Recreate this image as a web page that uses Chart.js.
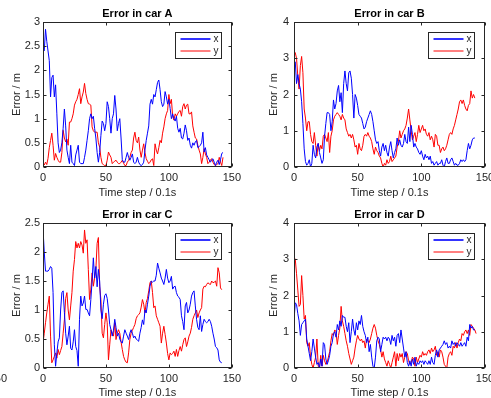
<!DOCTYPE html>
<html><head><meta charset="utf-8">
<script src="https://cdn.jsdelivr.net/npm/chart.js@4"></script>
<style>
html,body{margin:0;padding:0;background:#fff;width:491px;height:398px;overflow:hidden;position:relative;}
canvas{position:absolute;}
#stray{position:absolute;left:-12px;top:373px;width:19px;text-align:right;font:11px "Liberation Sans",Arial,sans-serif;color:#262626;line-height:11px;}
</style></head><body>
<canvas id="cA" width="245" height="200" style="left:0;top:0"></canvas>
<canvas id="cB" width="260" height="200" style="left:245px;top:0"></canvas>
<canvas id="cC" width="245" height="200" style="left:0;top:200px"></canvas>
<canvas id="cD" width="260" height="200" style="left:245px;top:200px"></canvas>
<div id="stray">150</div>
<script>
// ---- data (time steps start at the given index, one value per step) ----
const titles = ["Error in car A","Error in car B","Error in car C","Error in car D"];
const seriesNames = ["x","y"];
const xAxisTitle = "Time step / 0.1s";
const yAxisTitle = "Error / m";
const xTicks = [0,50,100,150];
const yMaxes = [3,4,2.5,4];
const yStepsTick = [0.5,1,0.5,1];
const startA = 1, startB = 0, startC = 0, startD = 0;

const errA_x = [2.4,2.85,2.6,2.4,2.2,1.45,1.85,1.9,1.45,1.7,
1.1,0.5,0.3,0.35,0.5,0.8,1.2,0.85,0.35,0.2,
0.07,0.45,0.1,0.07,0.03,0.25,0.35,0.45,0.1,0.07,
0.07,0.07,0.2,0.35,0.55,0.75,1.0,1.1,1.0,1.05,
0.8,0.6,0.3,0.1,0.3,0.65,0.95,0.9,0.75,0.9,
1.35,1.25,1.0,0.7,1.0,1.1,1.48,1.2,0.75,0.9,
1.0,0.6,0.15,0.1,0.1,0.2,0.3,0.2,0.14,0.2,
0.27,0.1,0.07,0.1,0.2,0.1,0.05,0.03,0.05,0.1,
0.35,0.55,0.7,0.85,1.3,1.4,1.3,1.5,1.45,1.6,
1.75,1.8,1.6,1.35,1.25,1.3,1.56,1.45,1.3,1.4,
1.21,1.0,1.1,1.0,0.95,1.05,0.8,0.72,0.8,0.6,
0.58,0.7,0.87,0.75,0.55,0.6,0.45,0.39,0.5,0.45,
0.52,0.55,0.4,0.42,0.45,0.5,0.72,0.31,0.4,0.25,
0.2,0.15,0.1,0.15,0.17,0.1,0.03,0.1,0.14,0.05,
0.15,0.28,0.3];
const errA_y = [0.04,0.1,0.05,0.18,0.4,0.55,0.7,0.45,0.14,0.28,
0.2,0.14,0.1,0.1,0.3,0.76,0.6,0.52,0.58,0.45,
0.93,0.93,1.0,1.1,1.28,1.35,1.4,1.5,1.62,1.31,
1.45,1.55,1.73,1.52,1.4,1.31,1.3,1.28,0.83,0.75,
0.72,0.72,0.72,0.5,0.41,0.2,0.07,0.05,0.03,0.03,
0.14,0.31,0.25,0.2,0.07,0.1,0.12,0.14,0.1,0.07,
0.07,0.1,0.14,0.08,0.03,0.03,0.1,0.14,0.2,0.3,
0.35,0.6,0.72,0.55,0.5,0.62,0.35,0.2,0.35,0.48,
0.3,0.17,0.12,0.07,0.1,0.15,0.17,0.03,0.48,0.35,
0.27,0.4,0.55,0.5,0.7,0.83,1.0,1.1,1.17,1.5,
1.31,1.4,1.05,0.97,1.1,1.05,1.1,1.15,1.17,1.05,
1.25,1.31,1.2,1.28,1.3,1.1,1.1,1.14,0.85,0.72,
0.6,0.58,0.45,0.35,0.27,0.07,0.2,0.38,0.27,0.2,
0.07,0.1,0.15,0.17,0.1,0.05,0.03,0.05,0.07,0.2,
0.1,0.03,0.2];

const errB_x = [2.9,2.9,2.3,2.55,2.3,2.15,1.8,1.2,0.5,0.15,
0.05,0.1,0.2,0.0,0.1,0.6,0.35,0.25,0.55,0.65,
0.4,0.25,0.1,0.2,0.85,1.2,1.5,1.5,1.45,1.0,
1.25,1.85,1.6,1.75,2.1,2.25,1.8,2.05,1.5,2.3,
2.65,2.3,2.1,2.6,2.65,2.45,2.0,1.35,2.0,1.9,
1.7,1.45,1.4,1.35,1.2,1.05,1.1,1.25,1.35,1.45,
1.55,1.45,1.25,1.0,0.75,0.65,0.7,0.45,0.3,0.55,
0.65,0.45,0.6,0.4,0.3,0.55,0.7,0.45,0.25,0.4,
0.5,0.8,0.6,0.75,0.6,0.55,0.65,0.9,0.7,0.65,
1.1,0.7,1.15,0.9,0.55,0.65,0.55,0.5,0.4,0.35,
0.45,0.3,0.2,0.35,0.25,0.3,0.2,0.3,0.1,0.15,
0.05,0.1,0.15,0.05,0.1,0.1,0.2,0.05,0.0,0.15,
0.25,0.1,0.1,0.2,0.25,0.15,0.05,0.1,0.05,0.05,
0.1,0.2,0.15,0.2,0.15,0.2,0.45,0.65,0.5,0.6,
0.75,0.8,0.8];
const errB_y = [3.2,3.15,3.0,2.5,2.15,2.8,3.05,2.6,1.6,1.35,
1.0,1.25,1.25,0.9,0.7,0.65,0.95,0.6,0.3,0.65,
0.45,0.6,0.5,0.85,0.9,0.8,0.7,0.95,0.4,0.85,
1.0,1.3,1.4,1.45,1.5,1.45,1.4,1.3,1.45,1.35,
1.3,1.05,0.95,0.85,0.9,0.8,0.9,0.75,0.55,0.6,
0.35,0.65,0.5,0.45,0.6,0.85,0.9,0.85,0.95,0.85,
0.8,0.7,0.5,0.35,0.55,0.45,0.4,0.3,0.25,0.1,
0.0,0.1,0.05,0.2,0.1,0.15,0.3,0.15,0.2,0.25,
0.3,0.55,0.7,1.0,0.8,0.9,1.0,1.05,1.15,1.35,
1.6,1.3,1.0,0.75,0.85,0.95,0.7,0.9,1.15,0.95,
1.05,1.15,1.0,1.05,0.9,0.85,0.95,0.75,0.85,0.75,
0.55,0.9,0.85,0.6,0.6,0.4,0.5,0.55,0.45,0.5,
0.6,0.75,0.9,0.95,0.9,1.05,1.15,1.3,1.45,1.6,
1.8,1.85,1.75,1.85,1.7,1.6,1.55,1.7,1.75,2.1,
1.9,2.0,1.9];

const errC_x = [2.4,2.0,1.67,1.67,1.67,1.7,1.75,1.72,1.3,0.4,
0.03,0.26,0.45,0.52,1.0,1.3,1.33,0.96,0.6,0.4,
0.55,0.72,0.34,0.31,0.45,0.66,0.37,0.3,0.03,0.84,
1.24,1.07,1.12,1.24,1.01,1.01,0.95,0.9,1.18,1.5,
1.9,1.55,1.75,1.4,1.7,1.5,1.0,0.85,1.1,1.25,
1.28,1.2,1.0,0.75,0.66,0.55,0.65,0.84,0.7,0.55,
0.6,0.5,0.45,0.43,0.55,0.66,0.6,0.55,0.49,0.6,
0.66,0.6,0.52,0.55,0.5,0.48,0.46,0.6,0.7,0.83,
0.75,1.0,0.95,1.1,1.24,1.41,1.5,1.48,1.5,1.5,
1.6,1.81,1.72,1.64,1.55,1.5,1.44,1.55,1.7,1.55,
1.47,1.5,1.58,1.36,1.4,1.41,1.3,1.24,1.22,1.18,
0.9,0.8,0.66,1.07,1.13,0.95,1.0,1.1,1.24,1.3,
1.33,1.07,0.84,0.7,0.66,0.9,0.63,0.75,0.84,0.8,
0.78,0.8,0.84,0.8,0.72,0.6,0.5,0.37,0.35,0.31,
0.14,0.1,0.09];
const errC_y = [0.43,0.6,0.78,0.95,1.1,1.24,0.55,0.09,0.14,0.2,
0.26,0.17,0.32,0.23,0.3,0.37,0.6,0.83,1.2,1.3,
1.0,0.83,1.07,1.3,1.67,1.87,2.18,2.07,2.15,2.07,
2.18,2.12,1.98,2.38,2.15,2.21,1.7,1.18,1.36,1.64,
1.41,1.55,1.7,2.15,2.25,1.41,1.18,0.6,0.52,0.75,
0.95,0.78,0.14,0.4,0.66,0.6,0.55,0.78,0.49,0.6,
0.66,0.6,0.45,0.32,0.2,0.14,0.1,0.09,0.26,0.49,
0.6,0.65,0.7,0.75,0.85,0.9,0.92,0.95,1.05,1.18,
1.1,0.95,1.13,1.2,1.33,1.47,1.5,1.3,1.04,1.07,
0.9,0.84,0.78,0.72,0.43,0.6,0.72,0.58,0.43,0.25,
0.14,0.26,0.23,0.25,0.29,0.2,0.32,0.2,0.3,0.37,
0.29,0.4,0.49,0.52,0.37,0.45,0.55,0.6,0.7,0.84,
0.9,0.95,1.0,0.87,0.95,1.0,1.04,1.36,1.41,1.4,
1.44,1.47,1.45,1.44,1.5,1.47,1.48,1.5,1.41,1.73,
1.64,1.38,1.35];

const errD_x = [1.3,1.8,1.75,1.5,1.3,0.9,1.2,1.25,1.3,1.35,
0.8,0.6,0.4,0.2,0.45,0.8,0.55,0.3,0.1,0.15,
0.0,0.25,0.05,0.7,0.65,0.25,0.1,0.2,0.35,0.6,
0.7,0.95,1.0,0.85,1.2,1.05,1.3,1.15,1.45,1.4,
1.4,1.15,1.0,1.25,0.7,1.0,1.35,1.05,0.9,1.25,
1.05,1.3,1.2,1.45,1.15,1.0,0.9,0.7,0.85,0.45,
0.65,0.3,0.05,0.0,0.3,0.75,0.85,0.8,0.45,0.65,
0.85,0.8,0.85,0.75,0.85,0.8,0.65,0.9,0.75,0.85,
0.6,0.9,0.95,0.7,1.05,0.8,0.55,0.3,0.45,0.15,
0.05,0.2,0.05,0.25,0.1,0.3,0.05,0.15,0.1,0.2,
0.15,0.2,0.1,0.2,0.15,0.1,0.2,0.1,0.3,0.15,
0.1,0.35,0.5,0.3,0.5,0.55,0.6,0.65,0.75,0.65,
0.7,0.55,0.6,0.55,0.75,0.65,0.7,0.6,0.7,0.65,
0.6,0.7,0.6,0.65,0.7,0.6,0.85,0.75,1.2,1.1,
1.15,1.05,1.05];
const errD_y = [3.05,3.0,2.6,2.15,1.7,1.75,2.55,2.0,1.35,1.45,
0.7,0.6,0.7,0.3,0.1,0.0,0.15,0.3,0.8,0.05,
0.0,0.35,0.05,0.35,0.2,0.1,0.15,0.3,0.45,0.75,
0.95,0.9,1.05,1.0,0.65,0.9,1.1,1.7,1.3,1.15,
0.95,0.75,0.6,0.4,0.25,0.1,0.2,0.3,0.55,0.75,
0.9,0.8,0.75,0.8,0.7,0.75,0.55,0.8,0.75,0.7,
0.8,0.95,1.1,1.2,1.1,0.9,0.75,0.65,0.5,0.3,
0.45,0.25,0.15,0.05,0.2,0.1,0.0,0.15,0.3,0.45,
0.05,0.4,0.2,0.4,0.3,0.4,0.15,0.3,0.45,0.4,
0.2,0.1,0.15,0.3,0.25,0.05,0.3,0.15,0.25,0.35,
0.3,0.45,0.35,0.4,0.35,0.45,0.5,0.4,0.55,0.45,
0.5,0.6,0.35,0.45,0.3,0.5,0.45,0.3,0.1,0.05,
0.0,0.3,0.4,0.45,0.35,0.6,0.55,0.7,0.55,0.7,
0.8,0.75,0.95,0.9,1.0,1.05,0.95,1.05,0.9,1.2,
1.15,1.1,1.05,0.95];

// ---- drawing ----
const FONT = '"Liberation Sans", Arial, Helvetica, sans-serif';
const INK = '#262626';
Chart.defaults.font.family = FONT;
Chart.defaults.color = INK;

const boxPlugin = {
  id: 'matlabBox',
  afterDraw(chart, args, opts) {
    const {ctx, chartArea: a, scales} = chart;
    ctx.save();
    ctx.strokeStyle = INK;
    ctx.lineWidth = 1;
    const L = Math.round(a.left) + 0.5, R = Math.round(a.right) - 0.5;
    const T = Math.round(a.top) + 0.5, B = Math.round(a.bottom) - 0.5;
    ctx.strokeRect(L, T, R - L, B - T);
    const tl = 3;
    ctx.beginPath();
    scales.x.ticks.forEach(t => {
      const px = Math.round(scales.x.getPixelForValue(t.value)) + 0.5;
      ctx.moveTo(px, B); ctx.lineTo(px, B - tl);
      ctx.moveTo(px, T); ctx.lineTo(px, T + tl);
    });
    scales.y.ticks.forEach(t => {
      const py = Math.round(scales.y.getPixelForValue(t.value)) + 0.5;
      ctx.moveTo(L, py); ctx.lineTo(L + tl, py);
      ctx.moveTo(R, py); ctx.lineTo(R - tl, py);
    });
    ctx.stroke();
    // title
    ctx.fillStyle = '#000';
    ctx.font = 'bold 11px ' + FONT;
    ctx.textAlign = 'center';
    ctx.textBaseline = 'middle';
    ctx.fillText(opts.title, (a.left + a.right) / 2, a.top - 8);
    // legend box
    const bw = 46, bh = 26;
    const bx = Math.round(a.right - 11 - bw) + 0.5, by = Math.round(a.top + 10) + 0.5;
    ctx.fillStyle = '#fff';
    ctx.fillRect(bx, by, bw, bh);
    ctx.strokeStyle = INK;
    ctx.strokeRect(bx, by, bw, bh);
    chart.data.datasets.forEach((ds, i) => {
      const ly = by + 6.5 + i * 12 + (i === 0 ? 0 : 0);
      ctx.strokeStyle = ds.borderColor;
      ctx.lineWidth = i === 0 ? 1.6 : 1;
      ctx.beginPath();
      ctx.moveTo(bx + 5, ly); ctx.lineTo(bx + 35, ly);
      ctx.stroke();
      ctx.fillStyle = INK;
      ctx.font = '10px ' + FONT;
      ctx.textAlign = 'left';
      ctx.textBaseline = 'middle';
      ctx.fillText(ds.label, bx + 38, ly);
    });
    ctx.restore();
  }
};

function points(start, vals) {
  return vals.map((v, i) => ({x: start + i, y: v}));
}

function makeChart(id, k, start, xv, yv, lay) {
  new Chart(document.getElementById(id), {
    type: 'line',
    data: {
      datasets: [
        {label: seriesNames[0], data: points(start, xv), borderColor: '#0000ff', borderWidth: 1, pointRadius: 0, tension: 0},
        {label: seriesNames[1], data: points(start, yv), borderColor: '#ff0000', borderWidth: 1, pointRadius: 0, tension: 0}
      ]
    },
    options: {
      responsive: false,
      animation: false,
      layout: {padding: {top: lay.top, right: lay.right, left: 0, bottom: 0}},
      plugins: {legend: {display: false}, tooltip: {enabled: false}, matlabBox: {title: titles[k]}},
      scales: {
        x: {
          type: 'linear', min: xTicks[0], max: xTicks[xTicks.length - 1],
          afterBuildTicks: s => { s.ticks = xTicks.map(v => ({value: v})); },
          grid: {display: false, drawTicks: false},
          border: {display: false},
          ticks: {padding: 4, font: {size: 11}, color: INK, maxRotation: 0, autoSkip: false},
          title: {display: true, text: xAxisTitle, font: {size: 11}, color: INK, padding: {top: 0, bottom: 0}},
          afterFit: s => { s.height = lay.xh; }
        },
        y: {
          type: 'linear', min: 0, max: yMaxes[k],
          ticks: {stepSize: yStepsTick[k], padding: lay.ytp, font: {size: 11}, color: INK,
                  callback: v => String(+Number(v).toFixed(2))},
          grid: {display: false, drawTicks: false},
          border: {display: false},
          title: {display: true, text: yAxisTitle, font: {size: 11}, color: INK, padding: {top: lay.ytt, bottom: 0}},
          afterFit: s => { s.width = lay.yw; }
        }
      }
    },
    plugins: [boxPlugin]
  });
}

makeChart('cA', 0, startA, errA_x, errA_y, {top: 22, right: 12, xh: 33, yw: 43, ytp: 3, ytt: 10});
makeChart('cB', 1, startB, errB_x, errB_y, {top: 22, right: 20, xh: 33, yw: 49, ytp: 5, ytt: 22.5});
makeChart('cC', 2, startC, errC_x, errC_y, {top: 23, right: 12, xh: 32, yw: 43, ytp: 3, ytt: 10});
makeChart('cD', 3, startD, errD_x, errD_y, {top: 23, right: 20, xh: 32, yw: 49, ytp: 5, ytt: 22.5});
</script>
</body></html>
